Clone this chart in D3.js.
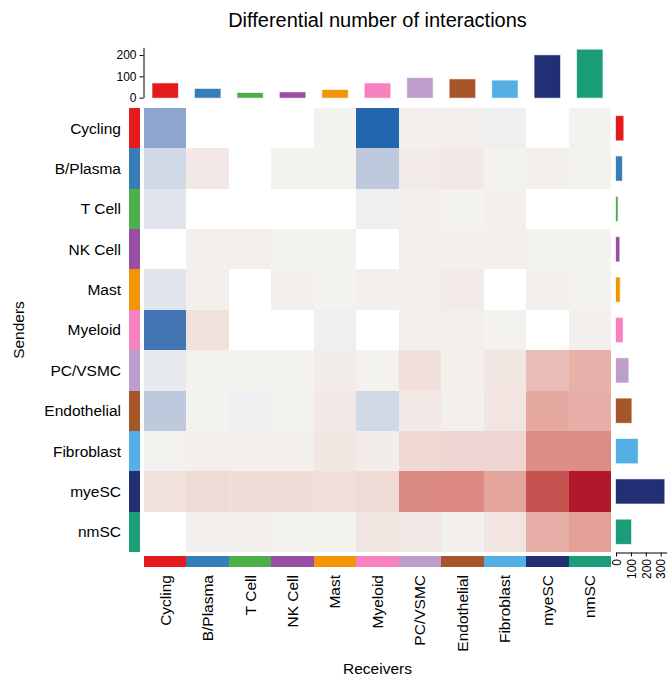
<!DOCTYPE html>
<html>
<head>
<meta charset="utf-8">
<script src="https://cdn.jsdelivr.net/npm/d3@7"></script>
<style>
  html, body { margin: 0; padding: 0; background: #ffffff; }
  svg { display: block; font-family: "Liberation Sans", Arial, sans-serif; }
</style>
</head>
<body>
<svg id="chart" width="672" height="681"></svg>
<script>
// Cell groups (same order for senders and receivers)
const cellTypes = ["Cycling", "B/Plasma", "T Cell", "NK Cell", "Mast", "Myeloid",
                   "PC/VSMC", "Endothelial", "Fibroblast", "myeSC", "nmSC"];
const cellColors = ["#E41A1C", "#377EB8", "#4DAF4A", "#984EA3", "#F29403", "#F781BF",
                    "#BC9DCC", "#A65628", "#54B0E4", "#222F75", "#1B9E77"];

// Differential number of interactions, rows = senders, columns = receivers (0 = none)
const diffCounts = [
  [-15,  0,  0,  0,  1, -28,  2,  2, -1,  0,  1],   // Cycling
  [ -5,  5,  0,  1,  1,  -8,  4,  5,  1,  2,  1],   // B/Plasma
  [ -3,  0,  0,  0,  0,  -1,  2,  1,  2,  0,  0],   // T Cell
  [  0,  2,  2,  1,  1,   0,  2,  2,  2,  1,  1],   // NK Cell
  [ -3,  2,  0,  2,  1,   2,  2,  4,  0,  2,  1],   // Mast
  [-25,  8,  0,  0, -1,   0,  2,  2,  1,  0,  2],   // Myeloid
  [ -2,  1,  1,  1,  3,   1,  9,  2,  6, 23, 29],   // PC/VSMC
  [ -8,  1, -1,  1,  5,  -5,  5,  2,  7, 32, 30],   // Endothelial
  [  1,  2,  2,  2,  6,   3, 12, 13, 13, 44, 44],   // Fibroblast
  [  8, 11, 10, 10,  9,  11, 45, 46, 34, 68, 86],   // myeSC
  [  0,  2,  2,  1,  1,   6,  5,  2,  7, 30, 36]    // nmSC
];

// Total strength per receiver (top bars) and per sender (right bars)
const receiverTotals = [67, 41, 22, 25, 36, 67, 92, 86, 80, 199, 225];
const senderTotals   = [49, 40, 11, 22, 25, 45, 83, 103, 146, 324, 101];

const topTicks = [0, 100, 200];
const rightTicks = [0, 100, 200, 300];

const titleText = "Differential number of interactions";
const rowTitle = "Senders";
const colTitle = "Receivers";

// ---- layout ----
const hm = { left: 144, right: 611, top: 108, bottom: 552 };
const labelFont = "15.5px";

const svg = d3.select("#chart");

const x = d3.scaleBand().domain(cellTypes).range([hm.left, hm.right]);
const y = d3.scaleBand().domain(cellTypes).range([hm.top, hm.bottom]);
const colorOf = d3.scaleOrdinal().domain(cellTypes).range(cellColors);

const flat = diffCounts.flat();
const minV = d3.min(flat), maxV = d3.max(flat);
const heat = d3.scaleLinear()
  .domain([minV, 0, maxV])
  .range(["#2166ac", "#f4f4f2", "#b2182b"])
  .interpolate(d3.interpolateLab);

// heatmap cells
const cells = [];
diffCounts.forEach((row, i) => row.forEach((v, j) => cells.push({ s: cellTypes[i], r: cellTypes[j], v })));
svg.append("g").attr("shape-rendering", "crispEdges")
  .selectAll("rect").data(cells).join("rect")
  .attr("x", d => x(d.r))
  .attr("y", d => y(d.s))
  .attr("width", x.bandwidth())
  .attr("height", y.bandwidth())
  .attr("fill", d => d.v === 0 ? "#ffffff" : heat(d.v));

// sender colour strip (left) and receiver colour strip (bottom)
svg.append("g").attr("shape-rendering", "crispEdges")
  .selectAll("rect").data(cellTypes).join("rect")
  .attr("x", 129).attr("width", 11)
  .attr("y", d => y(d)).attr("height", y.bandwidth())
  .attr("fill", d => colorOf(d));
svg.append("g").attr("shape-rendering", "crispEdges")
  .selectAll("rect").data(cellTypes).join("rect")
  .attr("y", 556).attr("height", 11)
  .attr("x", d => x(d)).attr("width", x.bandwidth())
  .attr("fill", d => colorOf(d));

// row labels
svg.append("g").selectAll("text").data(cellTypes).join("text")
  .attr("x", 121)
  .attr("y", d => y(d) + y.bandwidth() / 2)
  .attr("dy", "0.35em")
  .attr("text-anchor", "end")
  .style("font-size", labelFont)
  .attr("fill", "#000")
  .text(d => d);

// column labels (vertical)
svg.append("g").selectAll("text").data(cellTypes).join("text")
  .attr("transform", d => `translate(${x(d) + x.bandwidth() / 2},575) rotate(-90)`)
  .attr("dy", "0.35em")
  .attr("text-anchor", "end")
  .style("font-size", labelFont)
  .attr("fill", "#000")
  .text(d => d);

// ---- top bar annotation ----
const yTop = d3.scaleLinear()
  .domain([0, d3.max(receiverTotals) * 1.05])
  .range([97.7, 97.7 - d3.max(receiverTotals) * 1.05 * 0.2133]);
const barW = x.bandwidth() * 0.6;
svg.append("g").selectAll("rect").data(cellTypes).join("rect")
  .attr("x", d => x(d) + (x.bandwidth() - barW) / 2)
  .attr("width", barW)
  .attr("y", (d, i) => yTop(receiverTotals[i]))
  .attr("height", (d, i) => yTop(0) - yTop(receiverTotals[i]))
  .attr("fill", d => colorOf(d))
  .attr("stroke", d => colorOf(d))
  .attr("stroke-opacity", 0.35)
  .attr("stroke-width", 1);
const topAxis = svg.append("g")
  .attr("transform", "translate(143.5,0)")
  .call(d3.axisLeft(yTop).tickValues(topTicks).tickSize(4).tickSizeOuter(0).tickPadding(3));
topAxis.selectAll("text").style("font-size", "12px").attr("fill", "#000");
topAxis.selectAll("line,path").attr("stroke", "#000");
topAxis.attr("font-family", null);

// ---- right bar annotation ----
const xRight = d3.scaleLinear()
  .domain([0, d3.max(senderTotals) * 1.05])
  .range([616, 616 + d3.max(senderTotals) * 1.05 * 0.149]);
const barH = y.bandwidth() * 0.6;
svg.append("g").selectAll("rect").data(cellTypes).join("rect")
  .attr("y", d => y(d) + (y.bandwidth() - barH) / 2)
  .attr("height", barH)
  .attr("x", xRight(0))
  .attr("width", (d, i) => xRight(senderTotals[i]) - xRight(0))
  .attr("fill", d => colorOf(d))
  .attr("stroke", d => colorOf(d))
  .attr("stroke-opacity", 0.35)
  .attr("stroke-width", 1);
const rightAxis = svg.append("g")
  .attr("transform", "translate(0,552.5)")
  .call(d3.axisBottom(xRight).tickValues(rightTicks).tickSize(4).tickSizeOuter(0));
rightAxis.selectAll("text")
  .attr("transform", "rotate(-90)")
  .attr("x", -6.5).attr("y", 0).attr("dy", "0.35em")
  .attr("text-anchor", "end")
  .style("font-size", "12px").attr("fill", "#000");
rightAxis.selectAll("line,path").attr("stroke", "#000");
rightAxis.attr("font-family", null);

// ---- titles ----
svg.append("text")
  .attr("x", (hm.left + hm.right) / 2).attr("y", 27)
  .attr("text-anchor", "middle")
  .style("font-size", "20px")
  .attr("fill", "#000")
  .text(titleText);
svg.append("text")
  .attr("transform", `translate(23.5,${(hm.top + hm.bottom) / 2}) rotate(-90)`)
  .attr("text-anchor", "middle")
  .style("font-size", labelFont)
  .attr("fill", "#000")
  .text(rowTitle);
svg.append("text")
  .attr("x", (hm.left + hm.right) / 2).attr("y", 674)
  .attr("text-anchor", "middle")
  .style("font-size", labelFont)
  .attr("fill", "#000")
  .text(colTitle);
</script>
</body>
</html>
